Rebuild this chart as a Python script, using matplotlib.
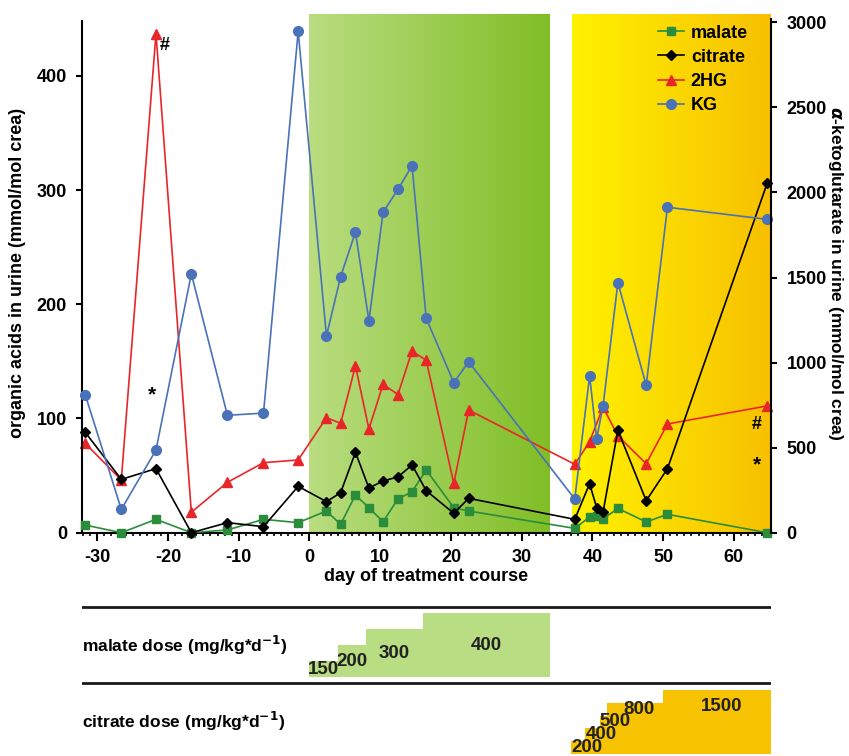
import numpy as np
import matplotlib.pyplot as plt
from matplotlib.lines import Line2D

plt.rcParams['font.family'] = ['Liberation Sans', 'DejaVu Sans']
plt.rcParams['font.weight'] = 'bold'
plt.rcParams['axes.labelweight'] = 'bold'
plt.rcParams['axes.unicode_minus'] = False

# sampling days (day of treatment course)
days = [-31.7, -26.6, -21.7, -16.7, -11.6, -6.5, -1.6, 2.4, 4.4, 6.5, 8.4, 10.4,
        12.5, 14.5, 16.5, 20.4, 22.5, 37.5, 39.6, 40.6, 41.5, 43.6, 47.6, 50.6, 64.7]
hg_days = [d for d in days if d != 40.6]

# organic acids, mmol/mol crea (left axis)
malate = [6.7, 0, 11.7, 0, 2.4, 11.7, 8.8, 19, 7.3, 33, 21.9, 9.6, 29.5, 35.9,
          54.9, 21.9, 19, 3.8, 13.7, 14.3, 12, 21.3, 9.4, 16.1, 0]
citrate = [87.9, 46.7, 56.1, 0, 8.8, 5.3, 40.6, 27.2, 35, 70.4, 39.1, 45.3, 48.8,
           59.3, 36.8, 17, 30.1, 11.7, 42.9, 21.9, 18.1, 89.7, 28, 56, 306]
hg2 = [78.3, 46.1, 437, 17.9, 44.1, 61.3, 63.7, 100.7, 95.8, 146, 90.8, 130, 121,
       159, 151, 43.3, 107.4, 59.9, 79.7, 110, 84.7, 60.4, 95.2, 111]
# alpha-ketoglutarate, mmol/mol crea (right axis)
kg = [811, 137, 486, 1521, 690, 703, 2947, 1156, 1505, 1767, 1246, 1883, 2018,
      2157, 1260, 882, 1005, 198, 921, 553, 745, 1470, 866, 1913, 1842]

# treatment periods
malate_period = (0, 34)
citrate_period = (37.1, 65.2)

# dose schedule
malate_dose = [150, 200, 300, 400]
malate_start = [0, 4, 8, 16]
malate_end = [4, 8, 16, 34]
citrate_dose = [200, 400, 500, 800, 1500]
citrate_start = [37, 39, 41, 42, 50]
citrate_end = [39, 41, 42, 50, 65.2]

W, H = 849, 756
fig = plt.figure(figsize=(W / 100, H / 100), dpi=100)

x0, x1 = 81.7, 770.7
y_bot, y_top = 532.7, 14
ax = fig.add_axes([x0 / W, (H - y_bot) / H, (x1 - x0) / W, (y_bot - y_top) / H])
xlim = (-32.2, 65.2)
ax_r = ax.twinx()
ax_r.set_ylim(0, 3049)

# gradient backgrounds
grad = np.linspace(0, 1, 256).reshape(1, -1)
green = np.array([[185, 221, 128], [128, 190, 38]]) / 255
yellow = np.array([[255, 242, 0], [247, 192, 0]]) / 255
for (a, b), cols in [(malate_period, green), (citrate_period, yellow)]:
    img = cols[0][None, None, :] * (1 - grad[..., None]) + cols[1][None, None, :] * grad[..., None]
    ax.imshow(img, extent=[a, b, 0, 454.2], aspect='auto', zorder=0)
ax.set_xlim(xlim)
ax.set_ylim(0, 454.2)

lw = 1.2
ax.plot(days, malate, color='#2b8c3c', marker='s', ms=6, lw=lw, label='malate', clip_on=False, zorder=3)
ax.plot(days, citrate, color='black', marker='D', ms=5, lw=lw, label='citrate', clip_on=False, zorder=4)
ax.plot(hg_days, hg2, color='#e8262a', marker='^', ms=7, lw=lw, label='2HG', clip_on=False, zorder=2)
ax_r.plot(days, kg, color='#4a72b8', marker='o', ms=7, lw=lw, label='KG', clip_on=False)

for a in (ax, ax_r):
    a.spines['top'].set_visible(False)
    for s in a.spines.values():
        s.set_linewidth(1.5)
ax.spines['right'].set_visible(False)
ax_r.spines['left'].set_visible(False)
ax_r.spines['bottom'].set_visible(False)
ax.spines['left'].set_bounds(0, 448.3)
ax_r.spines['right'].set_bounds(0, 3020)

ax.set_xticks(range(-30, 61, 10))
ax.set_xticks(range(-32, 66, 1), minor=True)
ax.set_yticks(range(0, 401, 100))
ax_r.set_yticks(range(0, 3001, 500))
ax.tick_params(axis='x', which='major', length=6, width=1.5, pad=6, labelsize=13)
ax.tick_params(axis='x', which='minor', length=2.5, width=1.2)
ax.tick_params(axis='y', length=4.5, width=1.5, pad=6, labelsize=13)
ax_r.tick_params(axis='y', length=4.5, width=1.5, pad=7, labelsize=13)

ax.set_xlabel('day of treatment course', fontsize=13, labelpad=1)
ax.set_ylabel('organic acids in urine (mmol/mol crea)', fontsize=13, labelpad=8)
ax_r.set_ylabel(r'$\alpha$-ketoglutarate in urine (mmol/mol crea)', fontsize=12.5,
                rotation=270, labelpad=13)

# significance marks
ax.text(-20.4, 427, '#', fontsize=13, ha='center', va='center')
ax.text(-22.2, 121, '*', fontsize=15, ha='center', va='center')
ax.text(63.2, 95, '#', fontsize=13, ha='center', va='center')
ax.text(63.2, 59, '*', fontsize=15, ha='center', va='center')

handles = [Line2D([], [], color='#2b8c3c', marker='s', ms=6, lw=lw),
           Line2D([], [], color='black', marker='D', ms=5, lw=lw),
           Line2D([], [], color='#e8262a', marker='^', ms=7, lw=lw),
           Line2D([], [], color='#4a72b8', marker='o', ms=7, lw=lw)]
ax_r.legend(handles, ['malate', 'citrate', '2HG', 'KG'], loc='upper right',
            bbox_to_anchor=(0.98, 0.997), frameon=False, fontsize=13,
            handlelength=1.4, handletextpad=0.4, labelspacing=0.4, borderpad=0)

# dose panel, y units in pixels from bottom of figure
axd = fig.add_axes([x0 / W, 0, (x1 - x0) / W, 158 / H])
axd.set_xlim(xlim)
axd.set_ylim(0, 158)
axd.axis('off')
axd.axhline(149.3, color='#1a1a1a', lw=2)
axd.axhline(72.7, color='#1a1a1a', lw=2)

num_fs = 13.5
m_base, m_step = 79, 16
for i, (d, s, e) in enumerate(zip(malate_dose, malate_start, malate_end)):
    h = m_step * (i + 1)
    axd.bar(s, h, width=e - s, bottom=m_base, align='edge', color='#b9dd82', lw=0)
    axd.text((s + e) / 2, m_base + h / 2, str(d), ha='center', va='center',
             fontsize=num_fs, color='#222222')

c_base, c_step = 2.3, 12.7
for i, (d, s, e) in enumerate(zip(citrate_dose, citrate_start, citrate_end)):
    h = c_step * (i + 1)
    axd.bar(s, h, width=e - s, bottom=c_base, align='edge', color='#f7c200', lw=0)
    ty = c_base + c_step * min(i + 0.5, 3.7)
    if e - s < 3:
        axd.text(s, ty, str(d), ha='left', va='center', fontsize=num_fs, color='#222222')
    else:
        axd.text((s + e) / 2 + 0.6, ty, str(d), ha='center', va='center',
                 fontsize=num_fs, color='#222222')

axd.text(0, 111, 'malate dose (mg/kg*d$^{\\mathbf{-1}}$)', transform=axd.get_yaxis_transform(),
         fontsize=12.5, va='center', ha='left')
axd.text(0, 34.3, 'citrate dose (mg/kg*d$^{\\mathbf{-1}}$)', transform=axd.get_yaxis_transform(),
         fontsize=12.5, va='center', ha='left')

fig.savefig('out.png', dpi=100)
